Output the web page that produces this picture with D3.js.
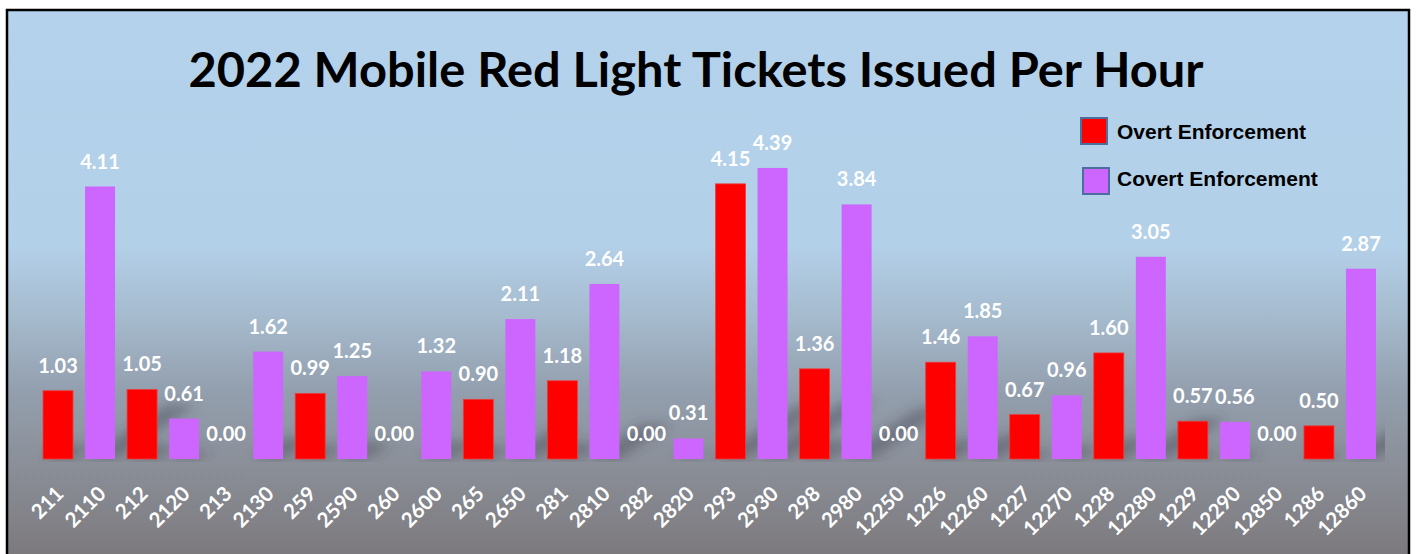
<!DOCTYPE html>
<html>
<head>
<meta charset="utf-8">
<script src="https://cdn.jsdelivr.net/npm/d3@7"></script>
<style>
  html, body { margin: 0; padding: 0; background: #ffffff; }
  svg { display: block; }
</style>
</head>
<body>
<svg id="chart" width="1416" height="554"></svg>
<script>
// ---- data ----
const categories = ["211","2110","212","2120","213","2130","259","2590","260","2600","265","2650","281","2810","282","2820","293","2930","298","2980","12250","1226","12260","1227","12270","1228","12280","1229","12290","12850","1286","12860"];
const values = [1.03,4.11,1.05,0.61,0.00,1.62,0.99,1.25,0.00,1.32,0.90,2.11,1.18,2.64,0.00,0.31,4.15,4.39,1.36,3.84,0.00,1.46,1.85,0.67,0.96,1.60,3.05,0.57,0.56,0.00,0.50,2.87];
const seriesOf = ["Overt","Covert","Overt","Covert","Overt","Covert","Overt","Covert","Overt","Covert","Overt","Covert","Overt","Covert","Overt","Covert","Overt","Covert","Overt","Covert","Covert","Overt","Covert","Overt","Covert","Overt","Covert","Overt","Covert","Covert","Overt","Covert"];
const seriesNames = ["Overt Enforcement","Covert Enforcement"];
const seriesKeys = ["Overt","Covert"];
const titleText = "2022 Mobile Red Light Tickets Issued Per Hour";

const data = categories.map((c, i) => ({cat: c, value: values[i], series: seriesOf[i]}));

const W = 1416, H = 554;
const svg = d3.select("#chart");
const defs = svg.append("defs");

// background gradient
const bg = defs.append("linearGradient").attr("id", "bgGrad")
  .attr("x1", 0).attr("y1", 0).attr("x2", 0).attr("y2", 1);
[[0, "#b4d2eb"], [0.42, "#b3d0e9"], [0.55, "#a5bacd"], [0.68, "#939fae"], [0.82, "#8a8e97"], [1, "#7a7679"]]
  .forEach(([o, c]) => bg.append("stop").attr("offset", o).attr("stop-color", c));

const blur = defs.append("filter").attr("id", "shBlur")
  .attr("x", "-50%").attr("y", "-50%").attr("width", "200%").attr("height", "200%");
blur.append("feGaussianBlur").attr("stdDeviation", 6);

// frame
svg.append("rect").attr("x", 7).attr("y", 10).attr("width", 1402).attr("height", 560)
  .attr("fill", "url(#bgGrad)").attr("stroke", "#000").attr("stroke-width", 2.5);

// scales
const plot = {left: 37, right: 1382, top: 127.5, bottom: 459};
const x = d3.scaleBand().domain(categories).range([plot.left, plot.right])
  .paddingInner(0.2863).paddingOuter(0.143);
const y = d3.scaleLinear().domain([0, 5]).range([plot.bottom, plot.top]);
const color = d3.scaleOrdinal().domain(seriesKeys).range(["#ff0000", "#cc66ff"]);

// clip for shadows (plot area)
defs.append("clipPath").attr("id", "plotClip").append("rect")
  .attr("x", plot.left).attr("y", 60).attr("width", 1385 - plot.left).attr("height", 462 - 60);

// perspective shadows
const shG = svg.append("g").attr("clip-path", "url(#plotClip)")
  .append("g").attr("filter", "url(#shBlur)");
shG.selectAll("polygon").data(data.filter(d => d.value > 0)).join("polygon")
  .attr("points", d => {
    const x0 = x(d.cat), x1 = x0 + x.bandwidth();
    const h = y(0) - y(d.value);
    const dx = 0.3 * h, dy = 0.2 * h;
    return [[x0, y(0)], [x1, y(0)], [x1 + dx, y(0) - dy], [x0 + dx, y(0) - dy]].map(p => p.join(",")).join(" ");
  })
  .attr("fill", "#3c424c").attr("opacity", 0.4);

// bars
svg.append("g").selectAll("rect").data(data).join("rect")
  .attr("x", d => x(d.cat))
  .attr("y", d => y(d.value))
  .attr("width", x.bandwidth())
  .attr("height", d => y(0) - y(d.value))
  .attr("fill", d => color(d.series))
  .attr("stroke", d => d.series === "Overt" ? "#e8403f" : "none")
  .attr("stroke-width", 0.8);

// value labels
svg.append("g").selectAll("text").data(data).join("text")
  .attr("x", d => x(d.cat) + x.bandwidth() / 2)
  .attr("y", d => y(d.value) - 18)
  .attr("text-anchor", "middle")
  .attr("font-family", "Lato, 'Open Sans', sans-serif")
  .attr("font-weight", 700)
  .attr("font-size", 20)
  .attr("fill", "#ffffff")
  .text(d => d3.format(".2f")(d.value));

// x axis (tick labels only)
const xAxis = d3.axisBottom(x).tickSize(0).tickPadding(0);
const ax = svg.append("g").attr("transform", `translate(0,${plot.bottom})`).call(xAxis);
ax.select(".domain").remove();
ax.selectAll("text")
  .attr("font-family", "Lato, 'Open Sans', sans-serif")
  .attr("font-weight", 700)
  .attr("font-size", 20.5)
  .attr("fill", "#ffffff")
  .attr("text-anchor", "end")
  .attr("dy", null)
  .attr("y", 0)
  .attr("transform", "translate(7,36) rotate(-45)");

// title
svg.append("text")
  .attr("x", 696).attr("y", 87)
  .attr("text-anchor", "middle")
  .attr("font-family", "Lato, 'Open Sans', sans-serif")
  .attr("font-weight", 700)
  .attr("font-size", 47)
  .attr("fill", "#000")
  .attr("textLength", 1015)
  .attr("lengthAdjust", "spacingAndGlyphs")
  .text(titleText);

// legend
const legend = svg.append("g");
const legPos = [{bx: 1081, by: 118, ty: 139}, {bx: 1083, by: 168, ty: 186}];
seriesKeys.forEach((k, i) => {
  legend.append("rect")
    .attr("x", legPos[i].bx).attr("y", legPos[i].by)
    .attr("width", 26).attr("height", 26)
    .attr("fill", color(k)).attr("stroke", "#4a6f9c").attr("stroke-width", 2);
  legend.append("text")
    .attr("x", 1117).attr("y", legPos[i].ty)
    .attr("font-family", "'Liberation Sans', Arial, sans-serif")
    .attr("font-weight", 700)
    .attr("font-size", 21)
    .attr("fill", "#000")
    .text(seriesNames[i]);
});
</script>
</body>
</html>
